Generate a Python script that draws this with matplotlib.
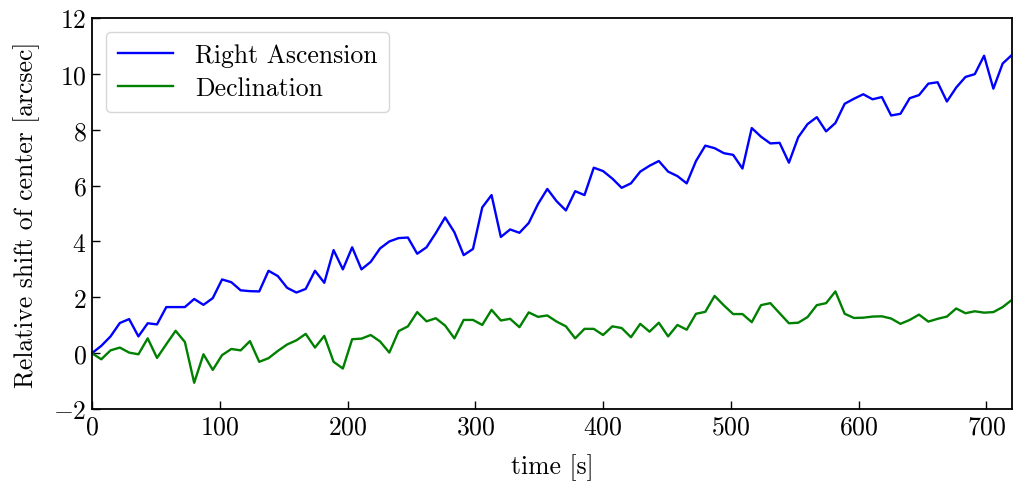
import numpy as np
import matplotlib
matplotlib.use("Agg")
import matplotlib.pyplot as plt

# tracking drift of the field center, 100 frames over 720 s
time_s = np.linspace(0, 720, 100)

right_ascension = [
    0.0, 0.26, 0.6, 1.08, 1.22, 0.6, 1.07, 1.03, 1.65, 1.65,
    1.65, 1.94, 1.73, 1.97, 2.64, 2.54, 2.25, 2.22, 2.21, 2.95,
    2.76, 2.34, 2.17, 2.3, 2.95, 2.52, 3.69, 3.0, 3.79, 3.0,
    3.27, 3.75, 4.0, 4.12, 4.14, 3.56, 3.79, 4.3, 4.86, 4.33,
    3.51, 3.73, 5.22, 5.66, 4.16, 4.43, 4.31, 4.66, 5.34, 5.88,
    5.44, 5.11, 5.8, 5.66, 6.64, 6.52, 6.25, 5.92, 6.08, 6.5,
    6.71, 6.88, 6.5, 6.34, 6.08, 6.88, 7.43, 7.34, 7.16, 7.1,
    6.61, 8.06, 7.75, 7.51, 7.53, 6.82, 7.73, 8.2, 8.45, 7.94,
    8.24, 8.93, 9.11, 9.27, 9.09, 9.17, 8.51, 8.57, 9.13, 9.24,
    9.65, 9.7, 9.01, 9.51, 9.89, 9.99, 10.65, 9.47, 10.37, 10.68,
]

declination = [
    0.0, -0.22, 0.1, 0.2, 0.02, -0.04, 0.53, -0.17, 0.32, 0.8,
    0.4, -1.06, -0.04, -0.6, -0.07, 0.15, 0.1, 0.43, -0.31, -0.18,
    0.08, 0.31, 0.46, 0.69, 0.2, 0.62, -0.31, -0.55, 0.5, 0.52,
    0.65, 0.42, 0.02, 0.79, 0.96, 1.47, 1.14, 1.25, 0.99, 0.53,
    1.19, 1.19, 1.01, 1.55, 1.17, 1.23, 0.93, 1.46, 1.3, 1.35,
    1.13, 0.96, 0.53, 0.87, 0.87, 0.65, 0.96, 0.9, 0.57, 1.05,
    0.77, 1.09, 0.6, 1.01, 0.84, 1.41, 1.48, 2.05, 1.71, 1.4,
    1.4, 1.11, 1.72, 1.79, 1.43, 1.07, 1.09, 1.29, 1.72, 1.79,
    2.21, 1.41, 1.26, 1.27, 1.31, 1.32, 1.24, 1.05, 1.19, 1.38,
    1.13, 1.23, 1.31, 1.6, 1.43, 1.5, 1.45, 1.47, 1.65, 1.91,
]

fs = 18.5
plt.rcParams['font.family'] = 'serif'
plt.rcParams['font.serif'] = ['cmr10']
plt.rcParams['mathtext.fontset'] = 'cm'
plt.rcParams['axes.formatter.use_mathtext'] = True
plt.rcParams['font.size'] = fs

fig = plt.figure(figsize=(10.15, 4.85), dpi=100)
ax = fig.add_axes([0.0906, 0.1546, 0.9064, 0.8062])

ax.plot(time_s, right_ascension, color='blue', linewidth=1.7, label='Right Ascension')
ax.plot(time_s, declination, color='green', linewidth=1.7, label='Declination')

ax.set_xlim(0, 720)
ax.set_ylim(-2, 12)
ax.set_xticks(np.arange(0, 701, 100))
ax.set_yticks(np.arange(-2, 13, 2))
ax.tick_params(direction='in', length=6, width=1.0, labelsize=fs, pad=4)
for sp in ax.spines.values():
    sp.set_linewidth(1.3)

ax.set_xlabel('time [s]', fontsize=fs, labelpad=11)
ax.set_ylabel('Relative shift of center [arcsec]', fontsize=fs, labelpad=9)
ax.legend(loc='upper left', fontsize=fs, handlelength=2.15, borderpad=0.45,
          labelspacing=0.35, handletextpad=0.85, borderaxespad=0.55)

fig.savefig('out.png', dpi=100)
